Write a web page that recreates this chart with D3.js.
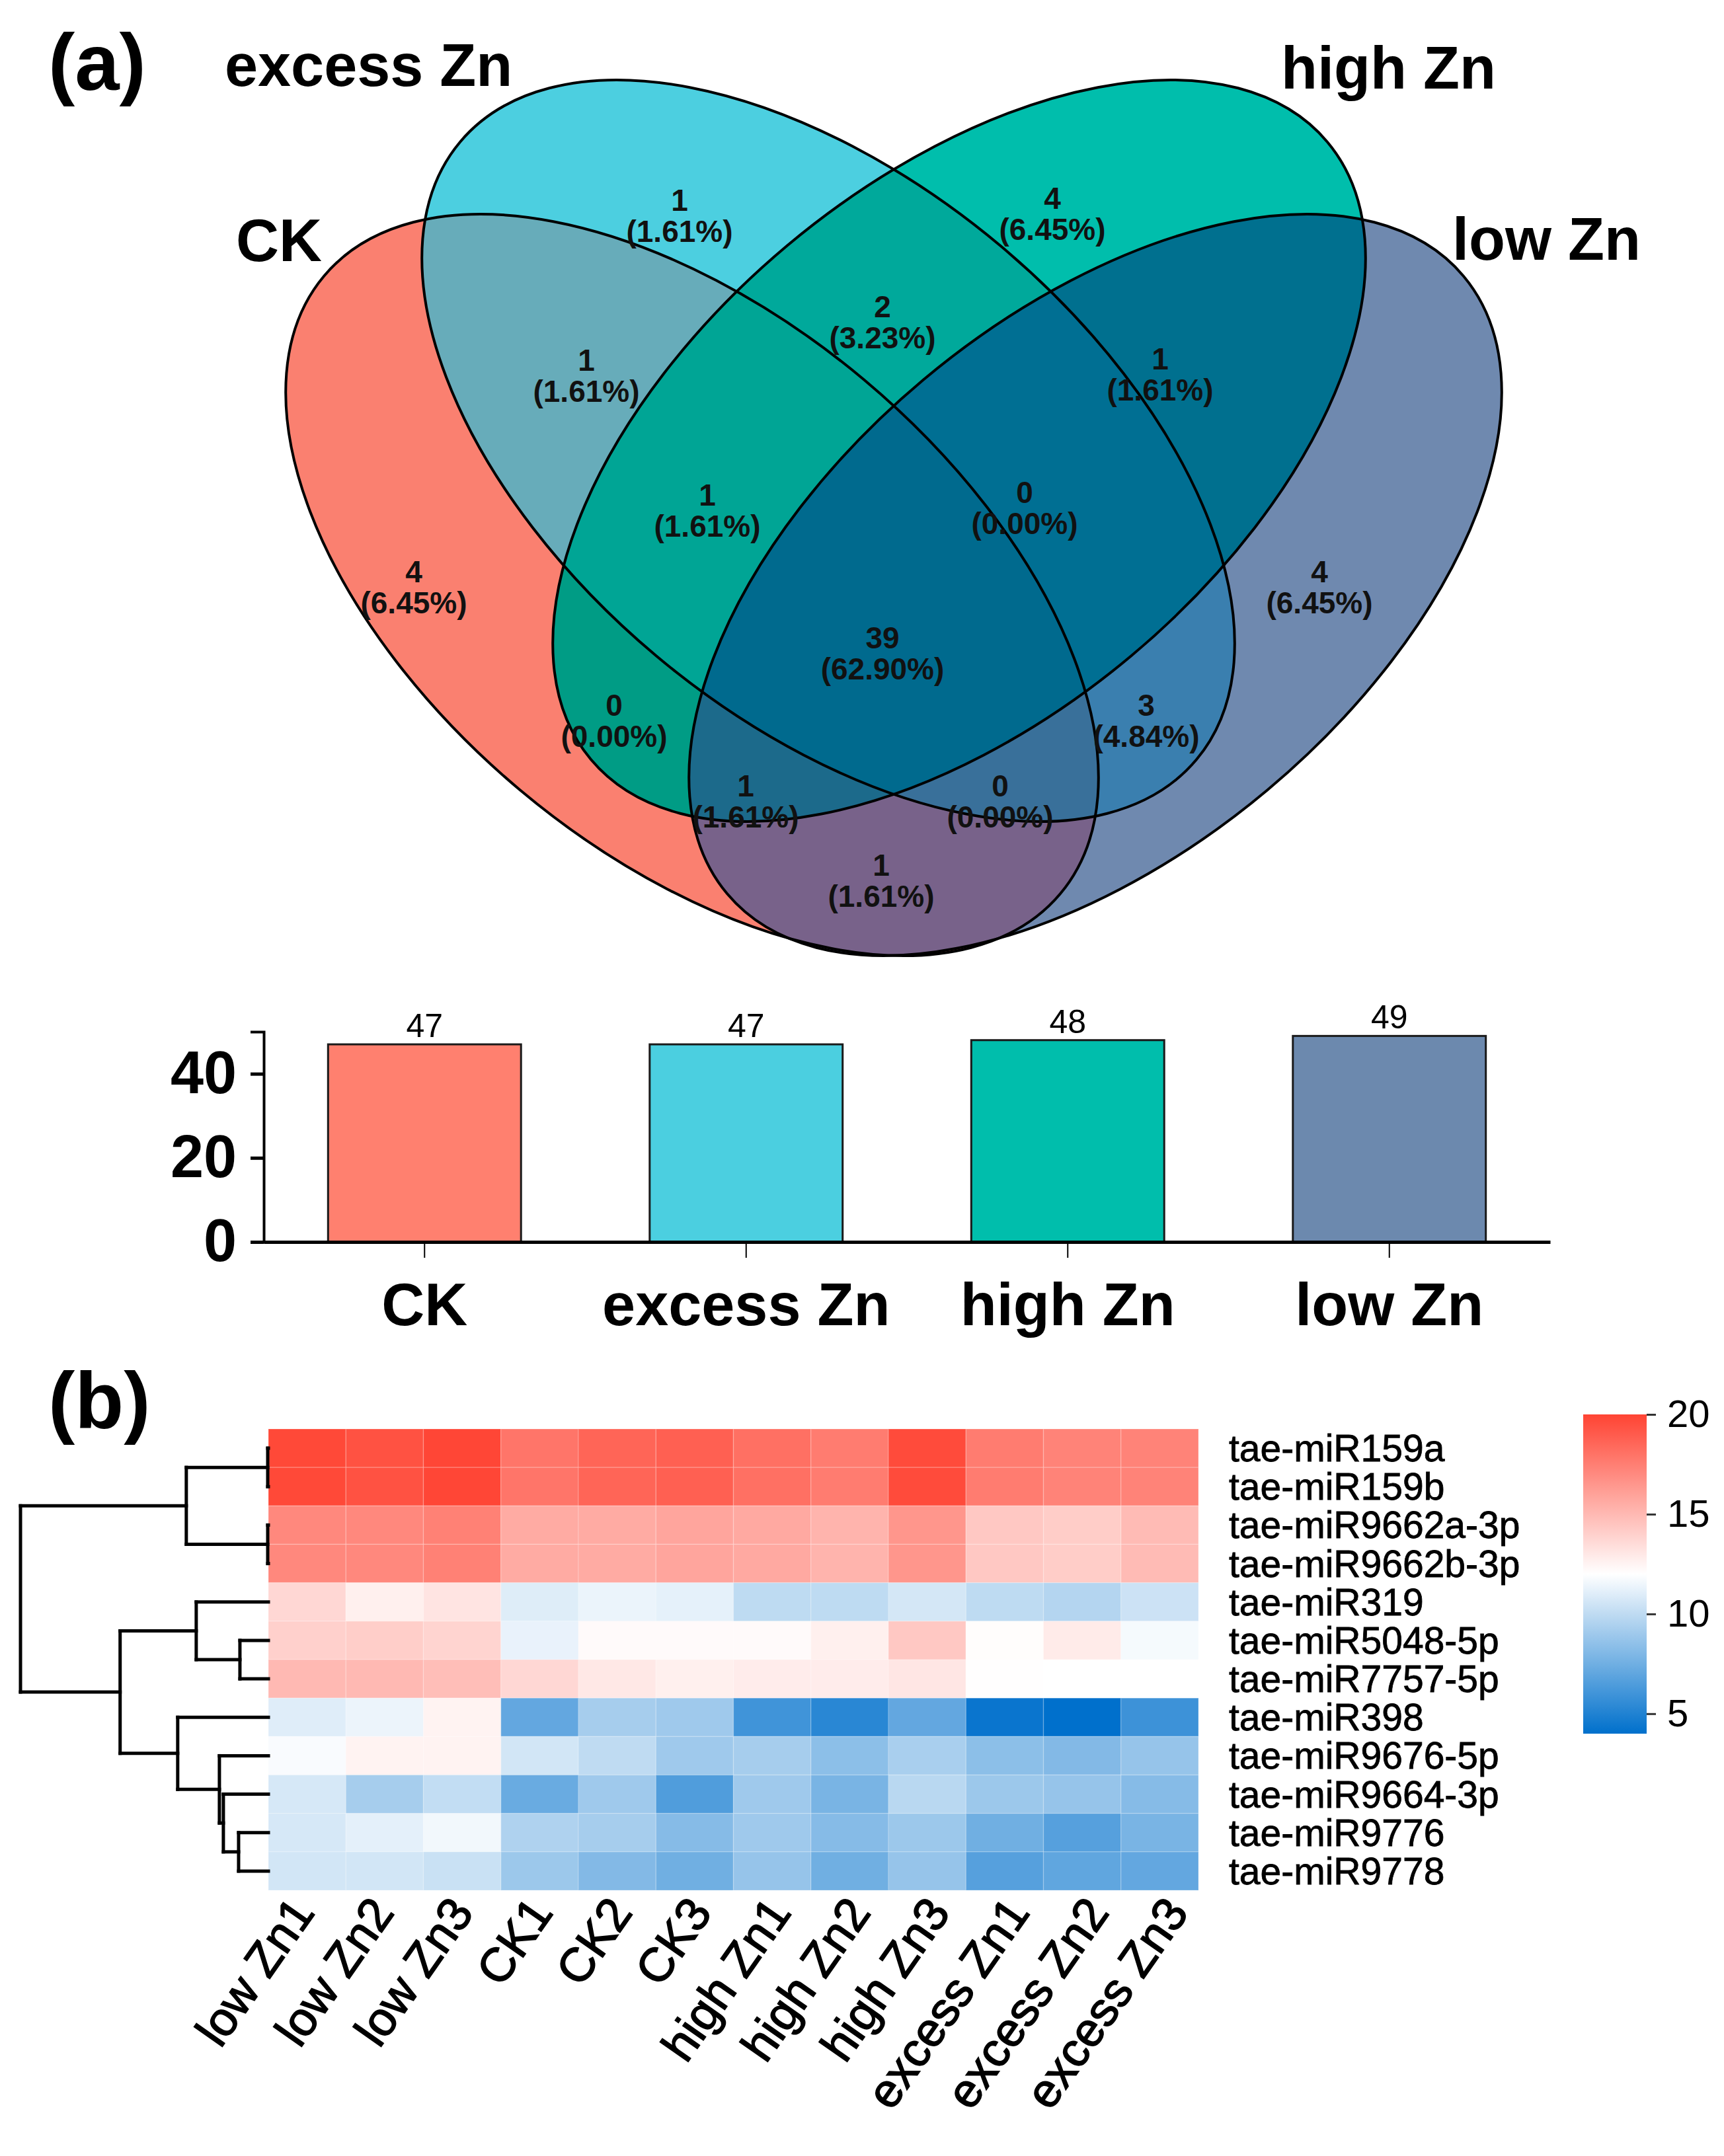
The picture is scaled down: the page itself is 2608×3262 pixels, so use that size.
<!DOCTYPE html>
<html>
<head>
<meta charset="utf-8">
<script src="https://cdn.jsdelivr.net/npm/d3@7"></script>
<style>
  body { margin: 0; background: #fff; }
  svg { display: block; font-family: "Liberation Sans", Arial, Helvetica, sans-serif; }
</style>
</head>
<body>
<div id="container"></div>
<script>
(function(){
//venn data: region masks in the order CK, excess Zn, high Zn, low Zn
var setNames = ["CK", "excess Zn", "high Zn", "low Zn"];
var regionKeys = ["1000", "0100", "0010", "0001", "1100", "1010", "1001", "0110", "0101", "0011", "1110", "1101", "1011", "0111", "1111"];
var regionCounts = [4, 1, 4, 4, 1, 0, 1, 2, 3, 1, 1, 0, 1, 0, 39];
var regionColors = ["#FA8070", "#4CCFE0", "#00BEAC", "#6F89AF", "#67ACBA", "#009C85", "#78628A", "#00A99B",
                    "#3A7FAF", "#00708F", "#00A595", "#39709A", "#1C6A8B", "#006F93", "#006A8E"];

//bar chart of set sizes
var barCounts = [47, 47, 48, 49];
var barColors = ["#FF806F", "#4BCFE0", "#00BEAC", "#6C89AE"];
var barTicks = [0, 20, 40];

//heatmap
var rowNames = ["tae-miR159a", "tae-miR159b", "tae-miR9662a-3p", "tae-miR9662b-3p", "tae-miR319", "tae-miR5048-5p",
                "tae-miR7757-5p", "tae-miR398", "tae-miR9676-5p", "tae-miR9664-3p", "tae-miR9776", "tae-miR9778"];
var colNames = ["low Zn1", "low Zn2", "low Zn3", "CK1", "CK2", "CK3", "high Zn1", "high Zn2", "high Zn3",
                "excess Zn1", "excess Zn2", "excess Zn3"];
var heatValues = [
    [19.8, 19.4, 19.9, 17.9, 18.6, 18.8, 18.1, 17.6, 19.7, 17.6, 17.3, 17.3],
    [19.8, 19.4, 19.9, 17.9, 18.6, 18.8, 18.1, 17.6, 19.7, 17.6, 17.3, 17.3],
    [17.1, 17.1, 17.4, 15.6, 15.6, 15.85, 15.7, 15.2, 16.5, 14.35, 14.15, 14.9],
    [17.1, 17.1, 17.4, 15.6, 15.6, 15.85, 15.7, 15.2, 16.5, 14.35, 14.15, 14.9],
    [13.7, 12.65, 13.15, 10.97, 11.37, 11.2, 9.96, 9.96, 10.65, 9.96, 9.65, 10.4],
    [14.0, 14.1, 13.85, 11.3, 12.2, 12.2, 12.2, 12.65, 14.35, 12.1, 12.85, 11.7],
    [15.0, 15.0, 14.8, 13.7, 13.0, 12.65, 12.8, 12.8, 13.05, 12.05, 12.0, 12.0],
    [11.0, 11.4, 12.5, 7.1, 9.2, 9.0, 6.0, 5.3, 7.1, 4.3, 4.0, 5.9],
    [11.8, 12.5, 12.5, 10.6, 10.0, 9.0, 9.2, 8.4, 9.3, 8.4, 8.1, 8.7],
    [10.7, 9.2, 10.1, 7.3, 9.0, 6.5, 9.0, 7.8, 9.8, 8.9, 8.7, 8.2],
    [10.7, 11.15, 11.6, 9.5, 9.2, 8.2, 9.0, 8.2, 8.9, 7.5, 6.7, 7.8],
    [10.6, 10.6, 10.3, 8.9, 8.1, 7.5, 8.7, 7.5, 8.7, 6.7, 7.0, 7.1]
];
var legendTicks = [5, 10, 15, 20];

//row clustering: leaves are row indexes, h is the merge height
var rowTree = {h: 37.45, c: [
    {h: 12.4, c: [{h: 0.1, c: [0, 1]}, {h: 0.1, c: [2, 3]}]},
    {h: 22.4, c: [
        {h: 10.9, c: [4, {h: 4.3, c: [5, 6]}]},
        {h: 13.7, c: [7, {h: 7.4, c: [8, {h: 6.8, c: [9, {h: 4.5, c: [10, 11]}]}]}]}
    ]}
]};

//layout of the venn (ellipse geometry and label anchors)
var ellipses = [
    {cx: 1047, cy: 885, rx: 727, ry: 405, rot: 40},
    {cx: 1253, cy: 682, rx: 727, ry: 405, rot: 40},
    {cx: 1451, cy: 682, rx: 727, ry: 405, rot: -40},
    {cx: 1657, cy: 885, rx: 727, ry: 405, rot: -40}
];
var setLabelPos = [[357, 395], [340, 130], [1938, 134], [2197, 393]];
var regionLabelPos = [[626, 881], [1028, 319], [1592, 316], [1996, 881], [887, 561], [929, 1083], [1333, 1325],
                      [1335, 480], [1734, 1083], [1755, 559], [1070, 765], [1513, 1205], [1128, 1205], [1550, 761], [1335, 981]];

var width = 2608, height = 3262;

var svg = d3.select("#container")
    .append("svg")
    .attr("width", width)
    .attr("height", height);

svg.append("rect").attr("width", width).attr("height", height).attr("fill", "#fff");

//panel letters
svg.append("text").attr("x", 73).attr("y", 136).attr("font-size", 121).attr("font-weight", "bold").text("(a)");
svg.append("text").attr("x", 73).attr("y", 2161).attr("font-size", 121).attr("font-weight", "bold").text("(b)");

/* ---------- venn ---------- */
var defs = svg.append("defs");
function addEllipse(sel, e) {
    return sel.append("ellipse")
        .attr("cx", 0).attr("cy", 0)
        .attr("rx", e.rx).attr("ry", e.ry)
        .attr("transform", "translate(" + e.cx + "," + e.cy + ") rotate(" + e.rot + ")");
}
ellipses.forEach(function(e, i){
    addEllipse(defs.append("clipPath").attr("id", "clipE" + i), e);
});

var venn = svg.append("g").attr("class", "venn");

//paint regions from single sets up to the full intersection
function countOnes(k) { return k.split("").filter(function(c){ return c === "1"; }).length; }
var order = d3.range(regionKeys.length).sort(function(a, b){
    return countOnes(regionKeys[a]) - countOnes(regionKeys[b]);
});
order.forEach(function(r){
    var members = [];
    regionKeys[r].split("").forEach(function(c, i){ if (c === "1") members.push(i); });
    var g = venn;
    members.slice(0, -1).forEach(function(m){
        g = g.append("g").attr("clip-path", "url(#clipE" + m + ")");
    });
    addEllipse(g, ellipses[members[members.length - 1]])
        .attr("fill", regionColors[r])
        .attr("stroke", "none");
});

//outlines
ellipses.forEach(function(e){
    addEllipse(venn, e).attr("fill", "none").attr("stroke", "#000").attr("stroke-width", 4);
});

var total = d3.sum(regionCounts);
var pct = d3.format(".2f");
regionKeys.forEach(function(k, i){
    var p = regionLabelPos[i];
    var t = venn.append("text")
        .attr("text-anchor", "middle")
        .attr("font-size", 46)
        .attr("font-weight", "bold")
        .attr("fill", "#111");
    t.append("tspan").attr("x", p[0]).attr("y", p[1]).text(regionCounts[i]);
    t.append("tspan").attr("x", p[0]).attr("y", p[1] + 47).text("(" + pct(regionCounts[i] / total * 100) + "%)");
});

setNames.forEach(function(s, i){
    venn.append("text")
        .attr("x", setLabelPos[i][0]).attr("y", setLabelPos[i][1])
        .attr("font-size", 90).attr("font-weight", "bold")
        .text(s);
});

/* ---------- bar chart of set sizes ---------- */
var xBar = d3.scaleBand()
    .domain(setNames)
    .range([399, 2345])
    .paddingInner(0.4)
    .paddingOuter(0.2);
var yBar = d3.scaleLinear()
    .domain([0, 50])
    .range([1879, 1561]);

var barG = svg.append("g").attr("class", "bars");
barG.selectAll(".bar")
    .data(barCounts)
    .enter()
    .append("rect")
    .attr("class", "bar")
    .attr("x", function(d, i){ return xBar(setNames[i]); })
    .attr("width", xBar.bandwidth())
    .attr("y", function(d){ return yBar(d); })
    .attr("height", function(d){ return yBar(0) - yBar(d); })
    .attr("fill", function(d, i){ return barColors[i]; })
    .attr("stroke", "#1a1a1a")
    .attr("stroke-width", 3);

barG.selectAll(".barLabel")
    .data(barCounts)
    .enter()
    .append("text")
    .attr("class", "barLabel")
    .attr("x", function(d, i){ return xBar(setNames[i]) + xBar.bandwidth() / 2; })
    .attr("y", function(d){ return yBar(d) - 11; })
    .attr("text-anchor", "middle")
    .attr("font-size", 50)
    .text(function(d){ return d; });

var yAxis = barG.append("g")
    .attr("transform", "translate(399,0)")
    .call(d3.axisLeft(yBar).tickValues(barTicks).tickSize(20).tickSizeOuter(20).tickPadding(21));
yAxis.select(".domain").attr("stroke", "#000").attr("stroke-width", 4);
yAxis.selectAll(".tick line").attr("stroke", "#000").attr("stroke-width", 5);
yAxis.selectAll(".tick text")
    .attr("font-family", null)
    .attr("font-size", 90).attr("font-weight", "bold").attr("fill", "#000");

var xAxis = barG.append("g")
    .attr("transform", "translate(0,1879)")
    .call(d3.axisBottom(xBar).tickSize(24).tickSizeOuter(0));
xAxis.select(".domain").attr("stroke", "#000").attr("stroke-width", 5);
xAxis.selectAll(".tick line").attr("stroke", "#000").attr("stroke-width", 2);
xAxis.selectAll(".tick text")
    .attr("font-family", null)
    .attr("font-size", 90).attr("font-weight", "bold").attr("fill", "#000")
    .attr("y", 126).attr("dy", 0);

/* ---------- heatmap ---------- */
var hmLeft = 406, hmRight = 1813, hmTop = 2162, hmBottom = 2860;
var xHm = d3.scaleBand().domain(colNames).range([hmLeft, hmRight]);
var yHm = d3.scaleBand().domain(rowNames).range([hmTop, hmBottom]);
var colorScale = d3.scaleLinear()
    .domain([4, 12, 20])
    .range(["#0070CC", "#FFFFFF", "#FF4433"]);

var cells = [];
heatValues.forEach(function(row, r){
    row.forEach(function(v, c){ cells.push({r: rowNames[r], c: colNames[c], v: v}); });
});

var hm = svg.append("g").attr("class", "heatmap");
hm.selectAll(".cell")
    .data(cells)
    .enter()
    .append("rect")
    .attr("class", "cell")
    .attr("x", function(d){ return xHm(d.c); })
    .attr("y", function(d){ return yHm(d.r); })
    .attr("width", xHm.bandwidth())
    .attr("height", yHm.bandwidth())
    .attr("fill", function(d){ return colorScale(d.v); })
    .attr("stroke", "rgba(255,255,255,0.18)")
    .attr("stroke-width", 1.5);

//row labels
hm.selectAll(".rowLabel")
    .data(rowNames)
    .enter()
    .append("text")
    .attr("class", "rowLabel")
    .attr("x", 1859)
    .attr("y", function(d){ return yHm(d) + yHm.bandwidth() / 2; })
    .attr("dy", "0.35em")
    .attr("font-size", 57)
    .attr("stroke", "#000")
    .attr("stroke-width", 0.8)
    .text(function(d){ return d; });

//column labels (their anchors are spaced a little wider than the cells)
var xLab = d3.scalePoint().domain(colNames).range([478, 1800]);
hm.selectAll(".colLabel")
    .data(colNames)
    .enter()
    .append("text")
    .attr("class", "colLabel")
    .attr("text-anchor", "end")
    .attr("font-size", 72)
    .attr("stroke", "#000")
    .attr("stroke-width", 1.6)
    .attr("transform", function(d){
        return "translate(" + xLab(d) + "," + (hmBottom + 34) + ") rotate(-55)";
    })
    .text(function(d){ return d; });

//row dendrogram
var hx = d3.scaleLinear().domain([0, rowTree.h]).range([hmLeft, 31]);
var dendro = svg.append("g")
    .attr("class", "dendro")
    .attr("stroke", "#000")
    .attr("stroke-width", 5)
    .attr("stroke-linecap", "square")
    .attr("fill", "none");
function drawNode(node) {
    if (typeof node === "number") {
        return {x: hmLeft, y: yHm(rowNames[node]) + yHm.bandwidth() / 2};
    }
    var kids = node.c.map(drawNode);
    var px = hx(node.h);
    kids.forEach(function(k){
        dendro.append("line").attr("x1", k.x).attr("x2", px).attr("y1", k.y).attr("y2", k.y);
    });
    dendro.append("line").attr("x1", px).attr("x2", px).attr("y1", kids[0].y).attr("y2", kids[1].y);
    return {x: px, y: (kids[0].y + kids[1].y) / 2};
}
drawNode(rowTree);

//colour legend
var yLeg = d3.scaleLinear().domain([4, 20]).range([2623, 2140]);
var grad = defs.append("linearGradient")
    .attr("id", "legGrad")
    .attr("x1", 0).attr("x2", 0).attr("y1", 1).attr("y2", 0);
d3.range(4, 20.01, 1).forEach(function(v){
    grad.append("stop")
        .attr("offset", (v - 4) / 16)
        .attr("stop-color", colorScale(v));
});
var leg = svg.append("g").attr("class", "legend");
leg.append("rect")
    .attr("x", 2395).attr("width", 96)
    .attr("y", yLeg(20)).attr("height", yLeg(4) - yLeg(20))
    .attr("fill", "url(#legGrad)");
var legAxis = leg.append("g")
    .attr("transform", "translate(2491,0)")
    .call(d3.axisRight(yLeg).tickValues(legendTicks).tickSize(14).tickPadding(17));
legAxis.select(".domain").remove();
legAxis.selectAll(".tick line").attr("stroke", "#333").attr("stroke-width", 3);
legAxis.selectAll(".tick text")
    .attr("font-family", null)
    .attr("font-size", 58).attr("fill", "#000");
})();
</script>
</body>
</html>
